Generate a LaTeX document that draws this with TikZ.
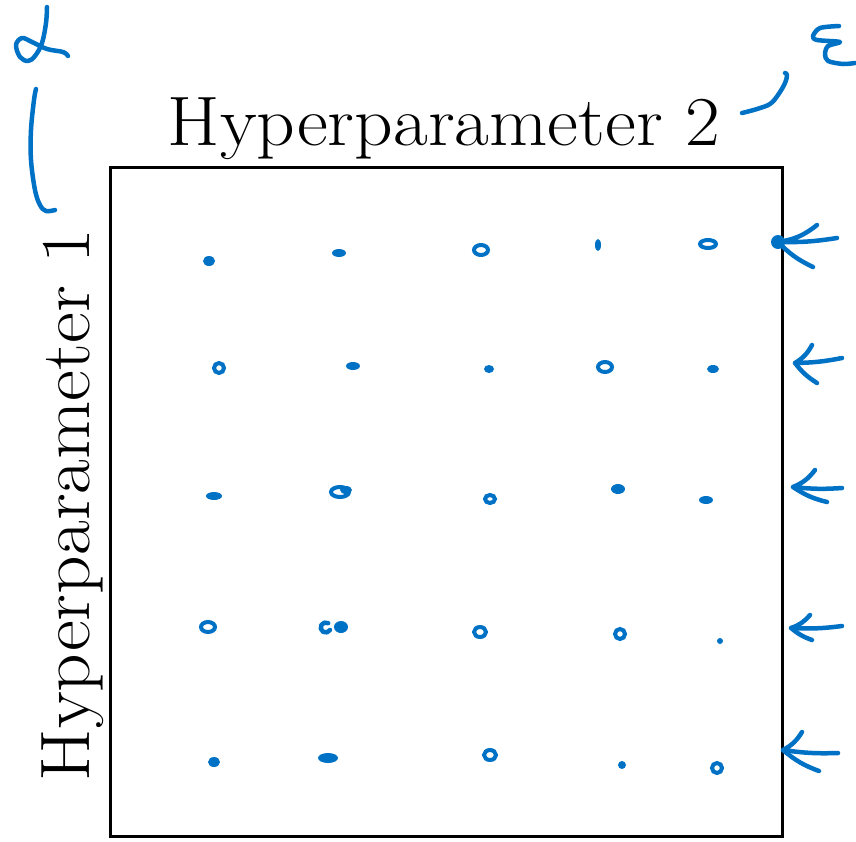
\documentclass[tikz,border=0pt]{standalone}
\usepackage{fontspec}
\definecolor{pen}{RGB}{0,114,198}
\begin{document}
\begin{tikzpicture}[x=1pt,y=-1pt,
    ink/.style={pen, line width=4.5pt, line cap=round, line join=round},
    blob/.style={pen, fill=pen},
    loopmark/.style={pen, line width=4pt},
    label/.style={font=\fontsize{70}{80}\selectfont, inner sep=0pt}]
    \useasboundingbox (0,0) rectangle (856,841);
    % grid box and axis names
    \draw [line width=3pt] (110,167) rectangle (782,836);
    \node [label, anchor=base, xscale=1.08] (hptwo) at (444,145) {Hyperparameter 2};
    \node [label, anchor=base, rotate=90, xscale=1.08] (hpone) at (89,505) {Hyperparameter 1};
    % sampled points
    \foreach \x/\y/\a/\b in {209/261/6/5, 339/253/7/4, 353/366/7/4, 489/369/5/4, 713/369/6/4,
                             214/496/8/4, 618/489/7/5, 706/500/7/4, 341/627/7/6, 720/641/3/3,
                             214/762/6/5, 328/758/10/5, 622/765/4/4, 598/245/3/6, 346/490/6/4}
        \fill [blob] (\x,\y) ellipse [x radius=\a, y radius=\b];
    \foreach \x/\y/\a/\b in {481/250/7/5, 708/244/8/4, 219/368/5/5, 605/367/7/5, 340/492/9/5,
                             490/499/5/4, 208/627/7/5, 480/632/6/5, 620/634/5/5,
                             490/755/6/5, 717/768/5/5}
        \draw [loopmark] (\x,\y) ellipse [x radius=\a, y radius=\b];
    \draw [ink] (330,630) arc [start angle=30, end angle=300, radius=5];
    % arrows marking the rows
    \foreach \tx/\ty/\ux/\uy/\ex/\ey/\lx/\ly in {778/242/817/225/837/238/813/267,
                                                 795/363/812/345/842/358/817/383,
                                                 793/487/815/470/842/488/827/502,
                                                 791/628/810/615/842/626/812/640,
                                                 783/750/802/732/838/753/819/771}
    {
        \draw [ink] (\ux,\uy) to [bend left=15] (\tx,\ty) to [bend right=5] (\ex,\ey);
        \draw [ink] (\tx,\ty) to [bend right=10] (\lx,\ly);
    }
    \fill [blob] (778,242) circle [radius=7];
    % alpha and epsilon notes
    \draw [ink] plot [smooth, tension=0.6] coordinates {(47,7) (46,23) (42,43) (35,56) (28,61)
        (20,57) (16,45) (22,38) (32,42) (47,49) (63,52) (68,56)};
    \draw [ink] plot [smooth, tension=0.6] coordinates {(36,89) (34,100) (31,130) (31,160)
        (35,190) (40,205) (46,211) (55,210)};
    \draw [ink] plot [smooth, tension=0.5] coordinates {(839,26) (820,28) (813,36) (817,40)
        (840,42) (828,46) (825,54) (828,61) (843,64) (855,63)};
    \draw [ink] plot [smooth, tension=0.6] coordinates {(785,73) (787,75) (785,83) (778,95)
        (770,104) (757,109) (742,113)};
\end{tikzpicture}
\end{document}
